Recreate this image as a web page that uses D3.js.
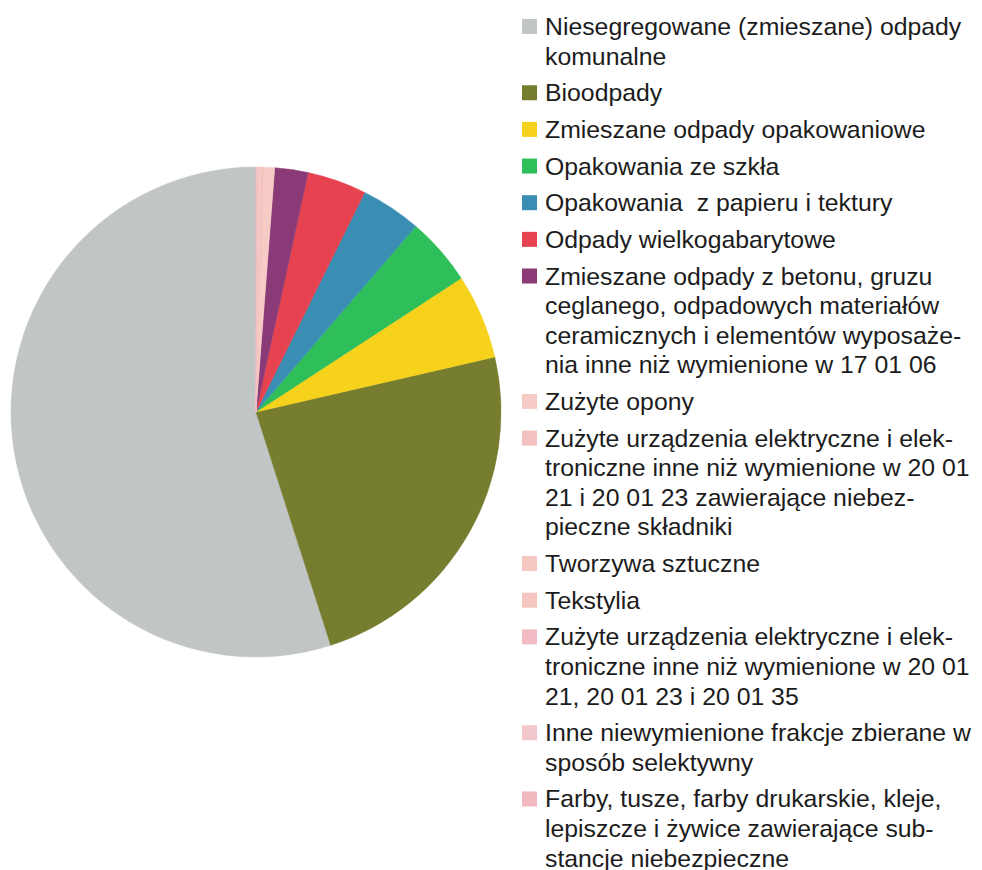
<!DOCTYPE html>
<html>
<head>
<meta charset="utf-8">
<script src="https://cdn.jsdelivr.net/npm/d3@7"></script>
<style>
  body { margin: 0; background: #fff; }
  svg { display: block; }
  text { font-family: "Liberation Sans", Arial, sans-serif; fill: #1c1c1c; }
</style>
</head>
<body>
<svg id="chart"></svg>
<script>
// udzial frakcji (%)
let categories = [
  "Niesegregowane (zmieszane) odpady komunalne",
  "Bioodpady",
  "Zmieszane odpady opakowaniowe",
  "Opakowania ze szkła",
  "Opakowania z papieru i tektury",
  "Odpady wielkogabarytowe",
  "Zmieszane odpady z betonu, gruzu ceglanego, odpadowych materiałów ceramicznych i elementów wyposażenia inne niż wymienione w 17 01 06",
  "Zużyte opony",
  "Zużyte urządzenia elektryczne i elektroniczne inne niż wymienione w 20 01 21 i 20 01 23 zawierające niebezpieczne składniki",
  "Tworzywa sztuczne",
  "Tekstylia",
  "Zużyte urządzenia elektryczne i elektroniczne inne niż wymienione w 20 01 21, 20 01 23 i 20 01 35",
  "Inne niewymienione frakcje zbierane w sposób selektywny",
  "Farby, tusze, farby drukarskie, kleje, lepiszcze i żywice zawierające substancje niebezpieczne"
];

let values = [55.0, 23.7, 5.6, 4.5, 4.0, 3.9, 2.2, 0.7, 0.2, 0.1, 0.1, 0.05, 0.05, 0.02];

// legend lines, wrapped as in the original
let legendLines = [
  ["Niesegregowane (zmieszane) odpady", "komunalne"],
  ["Bioodpady"],
  ["Zmieszane odpady opakowaniowe"],
  ["Opakowania ze szkła"],
  ["Opakowania  z papieru i tektury"],
  ["Odpady wielkogabarytowe"],
  ["Zmieszane odpady z betonu, gruzu", "ceglanego, odpadowych materiałów", "ceramicznych i elementów wyposaże-", "nia inne niż wymienione w 17 01 06"],
  ["Zużyte opony"],
  ["Zużyte urządzenia elektryczne i elek-", "troniczne inne niż wymienione w 20 01", "21 i 20 01 23 zawierające niebez-", "pieczne składniki"],
  ["Tworzywa sztuczne"],
  ["Tekstylia"],
  ["Zużyte urządzenia elektryczne i elek-", "troniczne inne niż wymienione w 20 01", "21, 20 01 23 i 20 01 35"],
  ["Inne niewymienione frakcje zbierane w", "sposób selektywny"],
  ["Farby, tusze, farby drukarskie, kleje,", "lepiszcze i żywice zawierające sub-", "stancje niebezpieczne"]
];

let colors = [
  "#c1c5c5", "#777d2e", "#f6d21c", "#2fbf5a", "#3a8db3", "#e6424f", "#8a3a77",
  "#f6cbc6", "#f3c2c0", "#f5c8c2", "#f5c6c0", "#f1bcc4", "#f2c8cc", "#f3b9c0"
];

function getConfig() {
  let width = 982;
  let height = 870;
  let svg = d3.select("#chart")
    .attr("width", width)
    .attr("height", height);
  return {width, height, svg, cx: 256, cy: 412, radius: 245};
}

function drawPie(config) {
  let {svg, cx, cy, radius} = config;
  let pie = d3.pie()
    .sort(null)
    .startAngle(0)
    .endAngle(-2 * Math.PI)
    .value(d => d.value);
  let arc = d3.arc().innerRadius(0).outerRadius(radius);
  let data = categories.map((c, i) => ({name: c, value: values[i], color: colors[i]}));
  svg.append("g")
    .attr("transform", `translate(${cx},${cy})`)
    .selectAll("path").data(pie(data))
    .enter().append("path")
    .attr("d", arc)
    .attr("fill", d => d.data.color)
    .attr("stroke", d => d.data.color)
    .attr("stroke-width", 0.5);
}

function drawLegend(config) {
  let {svg} = config;
  let lineH = 29.6;
  let gap = 7.05;
  let y = 35;
  let legend = svg.append("g");
  legendLines.forEach((lines, i) => {
    let item = legend.append("g");
    item.append("rect")
      .attr("x", 522)
      .attr("y", y - 16)
      .attr("width", 15)
      .attr("height", 15)
      .attr("fill", colors[i]);
    lines.forEach((l, j) => {
      item.append("text")
        .attr("x", 545)
        .attr("y", y + j * lineH)
        .attr("font-size", "24.8px")
        .style("white-space", "pre")
        .text(l);
    });
    y += lines.length * lineH + gap;
  });
}

let config = getConfig();
drawPie(config);
drawLegend(config);
</script>
</body>
</html>
